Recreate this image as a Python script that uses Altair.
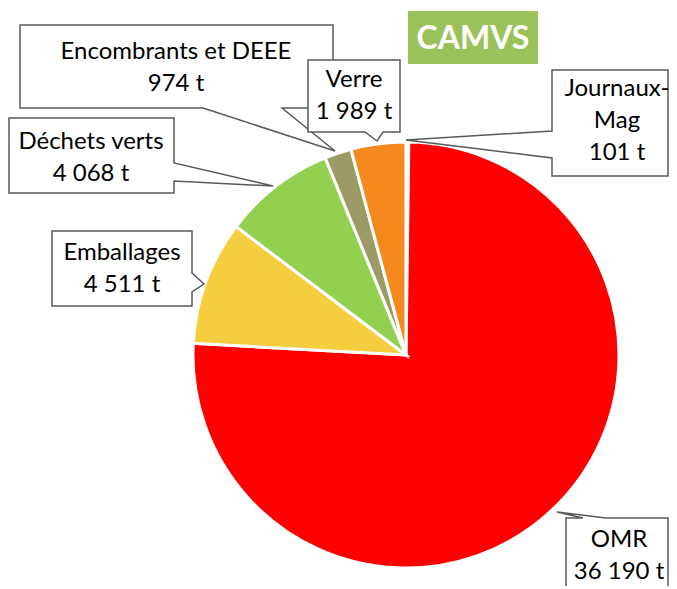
import altair as alt
import pandas as pd

# ---------------- data ----------------
categories = ["Journaux-Mag", "OMR", "Emballages", "Déchets verts", "Encombrants et DEEE", "Verre"]
tonnes = [101, 36190, 4511, 4068, 974, 1989]
label_names = ["Journaux-\nMag", "OMR", "Emballages", "Déchets verts", "Encombrants et DEEE", "Verre"]
colors = ["#F2F2F2", "#FF0000", "#F5CD3F", "#92D050", "#9C9B66", "#F5891E"]
title_text = "CAMVS"


def fmt(v):
    return f"{v:,}".replace(",", " ") + " t"


df = pd.DataFrame({
    "cat": categories,
    "t": tonnes,
    "idx": list(range(len(categories))),
})

# ---------------- layout (page pixel coordinates) ----------------
OFF = 8  # page margin
W, H = 661, 578
CX, CY, R = 406, 355, 213

# first-line centre (x, y) of each label
label_pos = {
    "Journaux-Mag": (617, 89),
    "OMR": (619, 540),
    "Emballages": (122, 253),
    "Déchets verts": (91, 142),
    "Encombrants et DEEE": (176, 52),
    "Verre": (354, 80),
}

# callout outlines (box + pointer), drawn in this order
callout_shapes = [
    [(20, 25), (333, 25), (333, 108), (282, 108), (335, 151), (203, 108), (20, 108)],
    [(308, 60), (400, 60), (400, 132), (383, 132), (377, 141), (365, 132), (308, 132)],
    [(9, 118), (174, 118), (174, 163), (273, 186), (174, 181), (174, 193), (9, 193)],
    [(52, 231), (192, 231), (192, 273), (204, 284), (192, 292), (192, 306), (52, 306)],
    [(552, 70), (668, 70), (668, 176), (552, 176), (552, 158), (406, 140), (552, 131)],
    [(566, 518), (583, 518), (557, 512), (606, 518), (668, 518), (668, 600), (566, 600)],
]

features = []
for pts in callout_shapes:
    ring = [[x - OFF, y - OFF] for x, y in pts]
    ring.append(ring[0])
    features.append({"type": "Feature", "properties": {},
                     "geometry": {"type": "Polygon", "coordinates": [ring]}})

lab_df = pd.DataFrame({
    "label": [n + "\n" + fmt(v) for n, v in zip(label_names, tonnes)],
    "lx": [label_pos[c][0] - OFF for c in categories],
    "ly": [label_pos[c][1] - OFF for c in categories],
})

FONT = "Lato"

pie = alt.Chart(df).mark_arc(outerRadius=R, stroke="white", strokeWidth=3).encode(
    theta=alt.Theta("t:Q", stack=True),
    order=alt.Order("idx:Q"),
    color=alt.Color("cat:N", scale=alt.Scale(domain=categories, range=colors), legend=None),
    x=alt.value(CX - OFF),
    y=alt.value(CY - OFF),
)

callouts = alt.Chart(alt.Data(values=features)).mark_geoshape(
    fill="white", stroke="#595959", strokeWidth=1.5
).project(type="identity", scale=1, translate=[0, 0])

labels = alt.Chart(lab_df).mark_text(
    font=FONT, fontSize=24, lineBreak="\n", lineHeight=32,
    align="center", baseline="middle", color="#000000"
).encode(
    x=alt.X("lx:Q", scale=None),
    y=alt.Y("ly:Q", scale=None),
    text="label:N",
)

tdf = pd.DataFrame({"t": [title_text]})
title_box = alt.Chart(tdf).mark_rect(color="#9BC25A").encode(
    x=alt.value(408 - OFF), x2=alt.value(538 - OFF),
    y=alt.value(11 - OFF), y2=alt.value(64 - OFF),
)
title_txt = alt.Chart(tdf).mark_text(
    font=FONT, fontSize=32, fontWeight="bold", color="white",
    align="center", baseline="middle"
).encode(
    x=alt.value(473 - OFF), y=alt.value(39 - OFF), text="t:N"
)

chart = alt.layer(pie, callouts, labels, title_box, title_txt).properties(
    width=W, height=H, padding=0,
    autosize=alt.AutoSizeParams(type="none"),
).configure_view(stroke=None)

chart.save("out.html", embed_options={"renderer": "svg", "actions": False})
